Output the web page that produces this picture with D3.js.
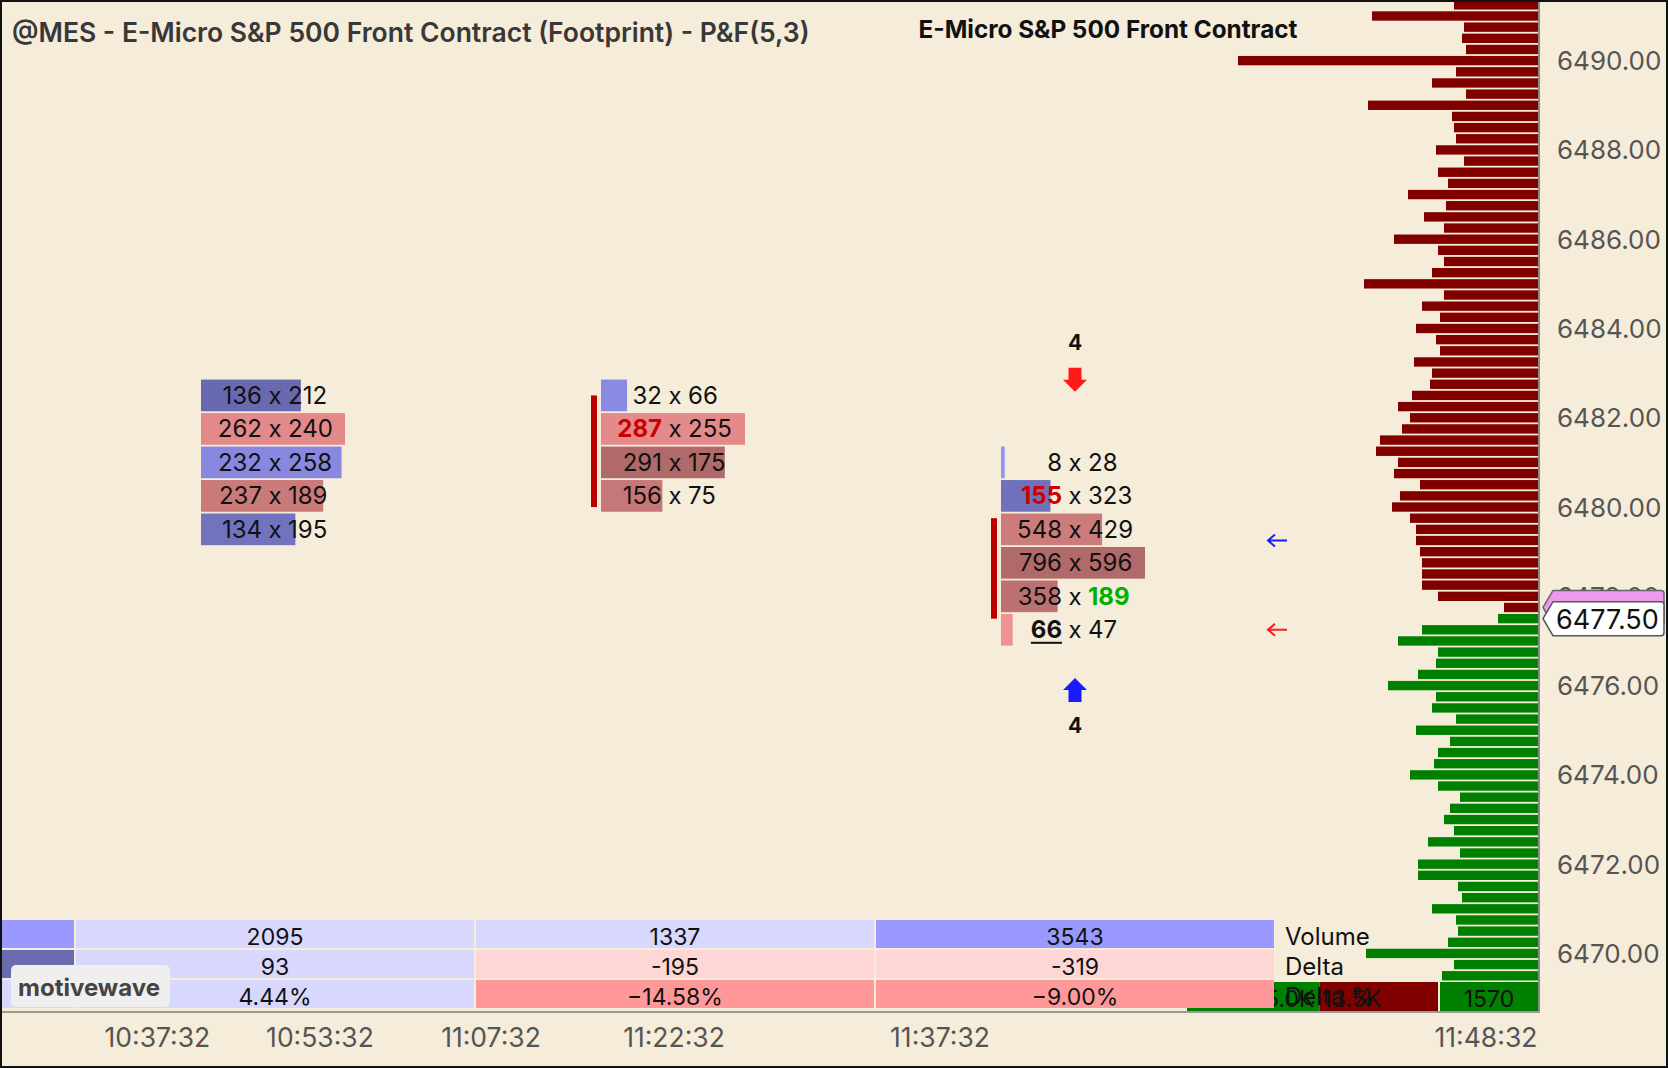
<!DOCTYPE html>
<html><head><meta charset="utf-8">
<script src="https://cdn.jsdelivr.net/npm/d3@7"></script>
<style>
html,body{margin:0;padding:0;background:#f5ecda;overflow:hidden}
svg{display:block}
text{font-family:Inter,"Noto Sans",sans-serif}
</style></head>
<body><svg id="chart" width="1668" height="1068"></svg>
<script>
// ---------------- DATA ----------------
const titleLeft = "@MES - E-Micro S&P 500 Front Contract (Footprint) - P&F(5,3)";
const titleRight = "E-Micro S&P 500 Front Contract";
const lastPrice = 6477.50;
const markerPrice = 6477.75;
const priceTicks = [6470, 6472, 6474, 6476, 6478, 6480, 6482, 6484, 6486, 6488, 6490];

// volume profile, from 6491.25 downward in 0.25 steps
const profileTopPrice = 6491.25;
const profileVolumes = [
  84,166,74,76,72,300,82,106,72,170,86,84,82,102,74,100,90,130,92,114,94,144,100,94,106,174,94,
  116,98,122,102,98,124,106,108,126,140,128,136,158,162,140,144,118,138,146,128,122,122,118,116,116,116,100,
  34,
  40,116,140,100,102,120,150,102,106,82,122,88,100,104,128,100,78,88,94,84,110,78,120,120,80,76,106,82,80,90,172,84,96
];

// footprint columns (P&F), rows from top price downward in 0.75 steps
const fpColumn = [0, 1, 2];
const fpTopPrice = [6482.50, 6482.50, 6481.00];
const fpBid = [[136,262,232,237,134],[32,287,291,156],[8,155,548,796,358,66]];
const fpAsk = [[212,240,258,189,195],[66,255,175,75],[28,323,429,596,189,47]];
const fpBidImbalance = [[],[1],[1]];
const fpAskImbalance = [[],[],[4]];
const fpBidUnderline = [[],[],[5]];
const fpBody = [null, [6482.50, 6480.00], [6479.75, 6477.50]];

// reversal arrows
const arrowColumn = [2, 2];
const arrowPrice = [6482.85, 6475.90];
const arrowDir = ["down", "up"];
const arrowCount = [4, 4];

// level markers
const levelPrice = [6479.25, 6477.25];
const levelKind = ["buy", "sell"];

// summary table
const tableColumn = [-1, 0, 1, 2];
const tableVolume = [6000, 2095, 1337, 3543];
const tableDelta = [420, 93, -195, -319];
const tableLabels = ["Volume", "Delta", "Delta %"];

// profile summary
const summaryBuy = 15040, summarySell = 13470;

// time axis
const timeLabels = ["10:37:32","10:53:32","11:07:32","11:22:32","11:37:32","11:48:32"];
const timeSlot = [-0.294, 0.1125, 0.54, 0.9975, 1.6625, 3.0275];

// ---------------- DRAW ----------------
const W = 1668, H = 1068;
const plotRight = 1538, plotBottom = 1012;
const svg = d3.select("#chart");
const bg = "#f5ecda";
svg.append("rect").attr("width", W).attr("height", H).attr("fill", bg);

const y = d3.scaleLinear().domain([6491, 6470]).range([16, 16 + 21 * 44.64]);
const tickPx = y(0) - y(0.25);
const xCol = d3.scaleLinear().domain([0, 1]).range([275, 675]);
const xProf = d3.scaleLinear().domain([0, 300]).range([0, 300]);

svg.append("defs").append("clipPath").attr("id", "plot")
  .append("rect").attr("x", 0).attr("y", 1).attr("width", plotRight).attr("height", plotBottom - 1);
const plot = svg.append("g").attr("clip-path", "url(#plot)");

// profile
const prof = profileVolumes.map((v, i) => ({ v, p: profileTopPrice - i * 0.25 }));
const barH = tickPx - 1.8;
plot.append("g").selectAll("rect").data(prof).join("rect")
  .attr("x", d => plotRight - xProf(d.v))
  .attr("width", d => xProf(d.v))
  .attr("y", d => y(d.p) - barH / 2)
  .attr("height", barH)
  .attr("fill", d => d.p > lastPrice ? "#800000" : "#008000");

// profile summary boxes
const sumScale = d3.scaleLinear().domain([0, summaryBuy + summarySell]).range([1187, 1438]);
const sumY = 982, sumH = 31, sumTextY = 999;
const fmtK = v => d3.format(".1f")(v / 1000) + "K";
const sumG = plot.append("g");
sumG.append("rect").attr("x", sumScale(0)).attr("width", sumScale(summaryBuy) - sumScale(0))
  .attr("y", sumY).attr("height", sumH).attr("fill", "#008000");
sumG.append("rect").attr("x", sumScale(summaryBuy)).attr("width", sumScale(summaryBuy + summarySell) - sumScale(summaryBuy))
  .attr("y", sumY).attr("height", sumH).attr("fill", "#800000");
sumG.append("rect").attr("x", sumScale(summaryBuy + summarySell) + 2).attr("width", plotRight - sumScale(summaryBuy + summarySell) - 2)
  .attr("y", sumY).attr("height", sumH).attr("fill", "#008000");
sumG.append("text").attr("x", sumScale(summaryBuy) - 5).attr("y", sumTextY).attr("text-anchor", "end")
  .attr("dominant-baseline", "central").attr("font-size", 23).attr("fill", "#111").text(fmtK(summaryBuy));
sumG.append("text").attr("x", sumScale(summaryBuy) + 3).attr("y", sumTextY)
  .attr("dominant-baseline", "central").attr("font-size", 23).attr("fill", "#111").text(fmtK(summarySell));
sumG.append("text").attr("x", (sumScale(summaryBuy + summarySell) + plotRight) / 2 + 1).attr("y", sumTextY)
  .attr("text-anchor", "middle").attr("dominant-baseline", "central").attr("font-size", 23).attr("fill", "#111")
  .text(summaryBuy - summarySell);

// footprint cells
const redLo = d3.rgb(248, 150, 150), redHi = d3.rgb(176, 106, 106);
const bluLo = d3.rgb(152, 152, 250), bluHi = d3.rgb(105, 105, 175);
const cellH = 0.75 * (y(0) - y(1)) - 1.8;
const fpFont = 24;
fpColumn.forEach((c, ci) => {
  const cx = xCol(c);
  const rows = fpBid[ci].map((b, i) => ({
    b, a: fpAsk[ci][i], p: fpTopPrice[ci] - i * 0.75, i,
    bidImb: fpBidImbalance[ci].includes(i), askImb: fpAskImbalance[ci].includes(i),
    und: fpBidUnderline[ci].includes(i)
  }));
  const maxTot = d3.max(rows, d => d.a + d.b);
  const maxD = d3.max(rows, d => Math.abs(d.a - d.b));
  const wS = d3.scaleLinear().domain([0, maxTot]).range([0, 144]);
  const x0 = cx - 74;
  const g = plot.append("g");
  g.selectAll("rect.cell").data(rows).join("rect").attr("class", "cell")
    .attr("x", x0).attr("width", d => wS(d.a + d.b))
    .attr("y", d => y(d.p) - cellH / 2).attr("height", cellH)
    .attr("fill", d => {
      const dl = d.a - d.b, t = Math.abs(dl) / maxD;
      return dl >= 0 ? d3.interpolateRgb(bluLo, bluHi)(t) : d3.interpolateRgb(redLo, redHi)(t);
    });
  if (fpBody[ci]) {
    g.append("rect").attr("x", x0 - 10).attr("width", 6)
      .attr("y", y(fpBody[ci][0])).attr("height", y(fpBody[ci][1]) - y(fpBody[ci][0]))
      .attr("fill", "#bb0000");
  }
  const t = g.selectAll("g.row").data(rows).join("g").attr("class", "row");
  t.append("text").attr("x", cx).attr("y", d => y(d.p)).attr("text-anchor", "middle")
    .attr("dominant-baseline", "central").attr("font-size", fpFont).attr("fill", "#111").text("x");
  t.append("text").attr("class", "bid").attr("x", cx - 13).attr("y", d => y(d.p)).attr("text-anchor", "end")
    .attr("dominant-baseline", "central").attr("font-size", fpFont)
    .attr("font-weight", d => (d.bidImb || d.und) ? 700 : 400)
    .attr("fill", d => d.bidImb ? "#cc0000" : "#111")
    .text(d => d.b);
  t.append("text").attr("x", cx + 13).attr("y", d => y(d.p))
    .attr("dominant-baseline", "central").attr("font-size", fpFont)
    .attr("font-weight", d => d.askImb ? 700 : 400)
    .attr("fill", d => d.askImb ? "#00b000" : "#111")
    .text(d => d.a);
  t.filter(d => d.und).each(function (d) {
    const len = d3.select(this).select("text.bid").node().getComputedTextLength();
    g.append("rect").attr("x", cx - 13 - len).attr("width", len).attr("y", y(d.p) + 12).attr("height", 2).attr("fill", "#111");
  });
});

// reversal arrows
arrowColumn.forEach((c, i) => {
  const cx = xCol(c), cy = y(arrowPrice[i]);
  const s = arrowDir[i] === "down" ? 1 : -1;
  const pts = [[-6.5, -12], [6.5, -12], [6.5, 0], [12, 0], [0, 12], [-12, 0], [-6.5, 0]]
    .map(([dx, dy]) => [cx + dx, cy + s * dy]);
  plot.append("path").attr("d", d3.line()(pts) + "Z").attr("fill", s === 1 ? "#ff1a1a" : "#1a1aff");
  plot.append("text").attr("x", cx).attr("y", cy - s * 37 + (s === 1 ? 0 : -2)).attr("text-anchor", "middle")
    .attr("dominant-baseline", "central").attr("font-size", 21).attr("font-weight", 700).attr("fill", "#111")
    .text(arrowCount[i]);
});

// level markers
levelPrice.forEach((p, i) => {
  const yy = y(p), col = levelKind[i] === "buy" ? "#1a1aff" : "#ff1a1a";
  const x1 = 1268, x2 = 1287;
  plot.append("path").attr("d", `M${x2},${yy}L${x1},${yy}M${x1 + 7},${yy - 6}L${x1},${yy}L${x1 + 7},${yy + 6}`)
    .attr("stroke", col).attr("stroke-width", 2).attr("fill", "none");
});

// summary table
const rowY = [920, 950, 980], rowH = 28;
const tbl = svg.append("g");
tableColumn.forEach((c, i) => {
  const cx = xCol(c), x0 = Math.max(0, cx - 199), x1 = cx + 199;
  const vol = tableVolume[i], dl = tableDelta[i], pct = dl / vol * 100;
  const colors = [
    vol >= 3000 ? "#9999ff" : "#d8d8ff",
    dl >= 0 ? (dl >= 400 ? "#6b6bb0" : "#d8d8ff") : (dl <= -400 ? "#b06a6a" : "#ffd6d6"),
    pct >= 0 ? (pct >= 8 ? "#9999ff" : "#d8d8ff") : (pct <= -8 ? "#ff9999" : "#ffd6d6")
  ];
  const texts = [String(vol), String(dl), d3.format(".2f")(pct) + "%"];
  colors.forEach((col, r) => {
    tbl.append("rect").attr("x", x0).attr("width", x1 - x0).attr("y", rowY[r]).attr("height", rowH).attr("fill", col);
    if (cx > 0) {
      tbl.append("text").attr("x", cx).attr("y", rowY[r] + rowH / 2 + 2.5).attr("text-anchor", "middle")
        .attr("dominant-baseline", "central").attr("font-size", 23).attr("fill", "#111").text(texts[r]);
    }
  });
});
tableLabels.forEach((l, r) => {
  tbl.append("text").attr("x", 1285).attr("y", rowY[r] + rowH / 2 + 2.5).attr("dominant-baseline", "central")
    .attr("font-size", 24).attr("fill", "#111").text(l);
});

// logo
svg.append("rect").attr("x", 11).attr("y", 965).attr("width", 159).attr("height", 42).attr("rx", 5).attr("fill", "#efefef");
svg.append("text").attr("x", 89).attr("y", 987).attr("text-anchor", "middle").attr("dominant-baseline", "central")
  .attr("font-size", 24).attr("font-weight", 700).attr("fill", "#444").text("motivewave");

// frame lines
svg.append("line").attr("x1", plotRight + 1).attr("x2", plotRight + 1).attr("y1", 0).attr("y2", plotBottom + 1)
  .attr("stroke", "#8a8a8a").attr("stroke-width", 2);
svg.append("line").attr("x1", 0).attr("x2", plotRight + 2).attr("y1", plotBottom).attr("y2", plotBottom)
  .attr("stroke", "#9a9a9a").attr("stroke-width", 2);

// price axis labels
svg.append("g").selectAll("text").data(priceTicks).join("text")
  .attr("x", 1557).attr("y", d => y(d)).attr("dominant-baseline", "central")
  .attr("font-size", 26).attr("fill", "#555").text(d => d3.format(".2f")(d));

// price labels (marker + last)
function tag(cy) {
  const l = 1543, r = 1664, h = 17;
  return `M${l},${cy}L${l + 10},${cy - h}L${r - 3},${cy - h}Q${r},${cy - h} ${r},${cy - h + 3}L${r},${cy + h - 3}Q${r},${cy + h} ${r - 3},${cy + h}L${l + 10},${cy + h}Z`;
}
svg.append("path").attr("d", tag(y(markerPrice))).attr("fill", "#ee99ee").attr("stroke", "#666").attr("stroke-width", 1.5);
svg.append("path").attr("d", tag(y(lastPrice))).attr("fill", "#ffffff").attr("stroke", "#555").attr("stroke-width", 1.5);
svg.append("text").attr("x", 1556).attr("y", y(lastPrice) + 1).attr("dominant-baseline", "central")
  .attr("font-size", 27).attr("fill", "#111").text(d3.format(".2f")(lastPrice));

// time axis
svg.append("g").selectAll("text").data(timeLabels).join("text")
  .attr("x", (d, i) => xCol(timeSlot[i])).attr("y", 1037).attr("text-anchor", "middle")
  .attr("dominant-baseline", "central").attr("font-size", 26.5).attr("fill", "#555").text(d => d);

// titles
svg.append("text").attr("x", 12).attr("y", 42).attr("font-size", 26.5).attr("font-weight", 600).attr("fill", "#383838").text(titleLeft);
svg.append("text").attr("x", 1108).attr("y", 38).attr("text-anchor", "middle").attr("font-size", 24.3).attr("font-weight", 700).attr("fill", "#111").text(titleRight);

// outer border
svg.append("rect").attr("x", 1).attr("y", 1).attr("width", W - 2).attr("height", H - 2)
  .attr("fill", "none").attr("stroke", "#111").attr("stroke-width", 2);
</script></body></html>
